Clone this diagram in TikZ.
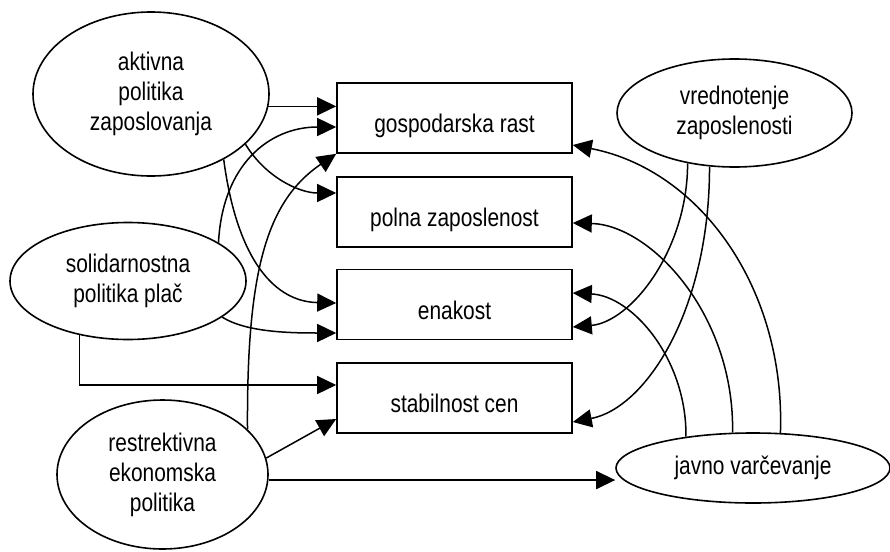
\documentclass[tikz,border=0pt]{standalone}
\usepackage{fontspec}
\setmainfont{Liberation Sans}[FakeStretch=0.82]
\usetikzlibrary{shapes.geometric,arrows.meta,calc}
\begin{document}
\begin{tikzpicture}[x=1pt,y=-1pt,
  every node/.style={font=\fontsize{25.5}{30}\selectfont, align=center, inner sep=0pt},
  oval/.style={draw, ellipse, line width=1.6pt},
  goal/.style={draw, rectangle, line width=1.6pt, minimum width=235pt, minimum height=70pt,
    text height=30pt, text depth=1pt},
  conn/.style={line width=1.5pt, -{Triangle[length=19pt,width=18pt]}}]
\useasboundingbox (0,0) rectangle (890,551);

\node[oval, minimum width=236pt, minimum height=164pt] (A) at (151,94) {aktivna\\politika\\zaposlovanja};
\node[oval, minimum width=236pt, minimum height=117pt] (S) at (128,281) {solidarnostna\\politika plač};
\node[oval, minimum width=211pt, minimum height=149pt] (R) at (162.5,474.5) {restrektivna\\ekonomska\\politika};
\node[oval, minimum width=235pt, minimum height=108pt] (V) at (734.5,113) {vrednotenje\\zaposlenosti};
\node[oval, minimum width=274pt, minimum height=70pt] (J) at (753,468) {javno varčevanje};

\node[goal] (G) at (454.5,118) {gospodarska rast};
\node[goal] (P) at (454.5,212) {polna zaposlenost};
\node[goal] (E) at (454.5,304.5) {enakost};
\node[goal] (C) at (454.5,398) {stabilnost cen};

% aktivna politika zaposlovanja
\draw[conn] (A.-6) -- (A.-6 -| G.west);
\draw[conn] (A.-28) .. controls ($(A.-28)+(20,33)$) and ($(P.west)+(-37,-19)$) .. ($(P.west)+(0,-19)$);
\draw[conn] (A.-42) .. controls ($(A.-42)+(12,91)$) and ($(E.west)+(-67,-3)$) .. ($(E.west)+(0,-1.5)$);

% solidarnostna politika plac
\draw[conn] (S.23) .. controls ($(S.23)+(4,-78)$) and ($(G.west)+(-67,9)$) .. ($(G.west)+(0,9)$);
\draw[conn] (S.-21) .. controls ($(S.-21)+(24,15)$) and ($(E.west)+(-47,28.5)$) .. ($(E.west)+(0,28.5)$);
\draw[conn] (S.-132) |- ($(C.west)+(0,-13)$);

% restrektivna ekonomska politika
\draw[conn] (R.28) .. controls ($(R.28)+(-1,-160)$) and ($(G.south west)+(-69,47)$) .. (G.south west);
\draw[conn] (R.9) -- ($(C.west)+(0,21)$);
\draw[conn] (R.-3) -- (R.-3 -| J.west);

% vrednotenje zaposlenosti
\draw[conn] (V.-133) .. controls ($(V.-133)+(0,87)$) and ($(E.east)+(58,17.5)$) .. ($(E.east)+(0,22.5)$);
\draw[conn] (V.-115) .. controls ($(V.-115)+(0,144)$) and ($(C.east)+(73,10)$) .. ($(C.east)+(0,24)$);

% javno varcevanje
\draw[conn] (J.52) .. controls ($(J.52)+(5,-144)$) and ($(G.east)+(128,52)$) .. ($(G.east)+(0,27)$);
\draw[conn] (J.120) .. controls ($(J.120)+(2,-118)$) and ($(P.east)+(78,13)$) .. ($(P.east)+(0,11)$);
\draw[conn] (J.155) .. controls ($(J.155)+(1,-77)$) and ($(E.east)+(60,-8.5)$) .. ($(E.east)+(0,-11.5)$);
\end{tikzpicture}
\end{document}
